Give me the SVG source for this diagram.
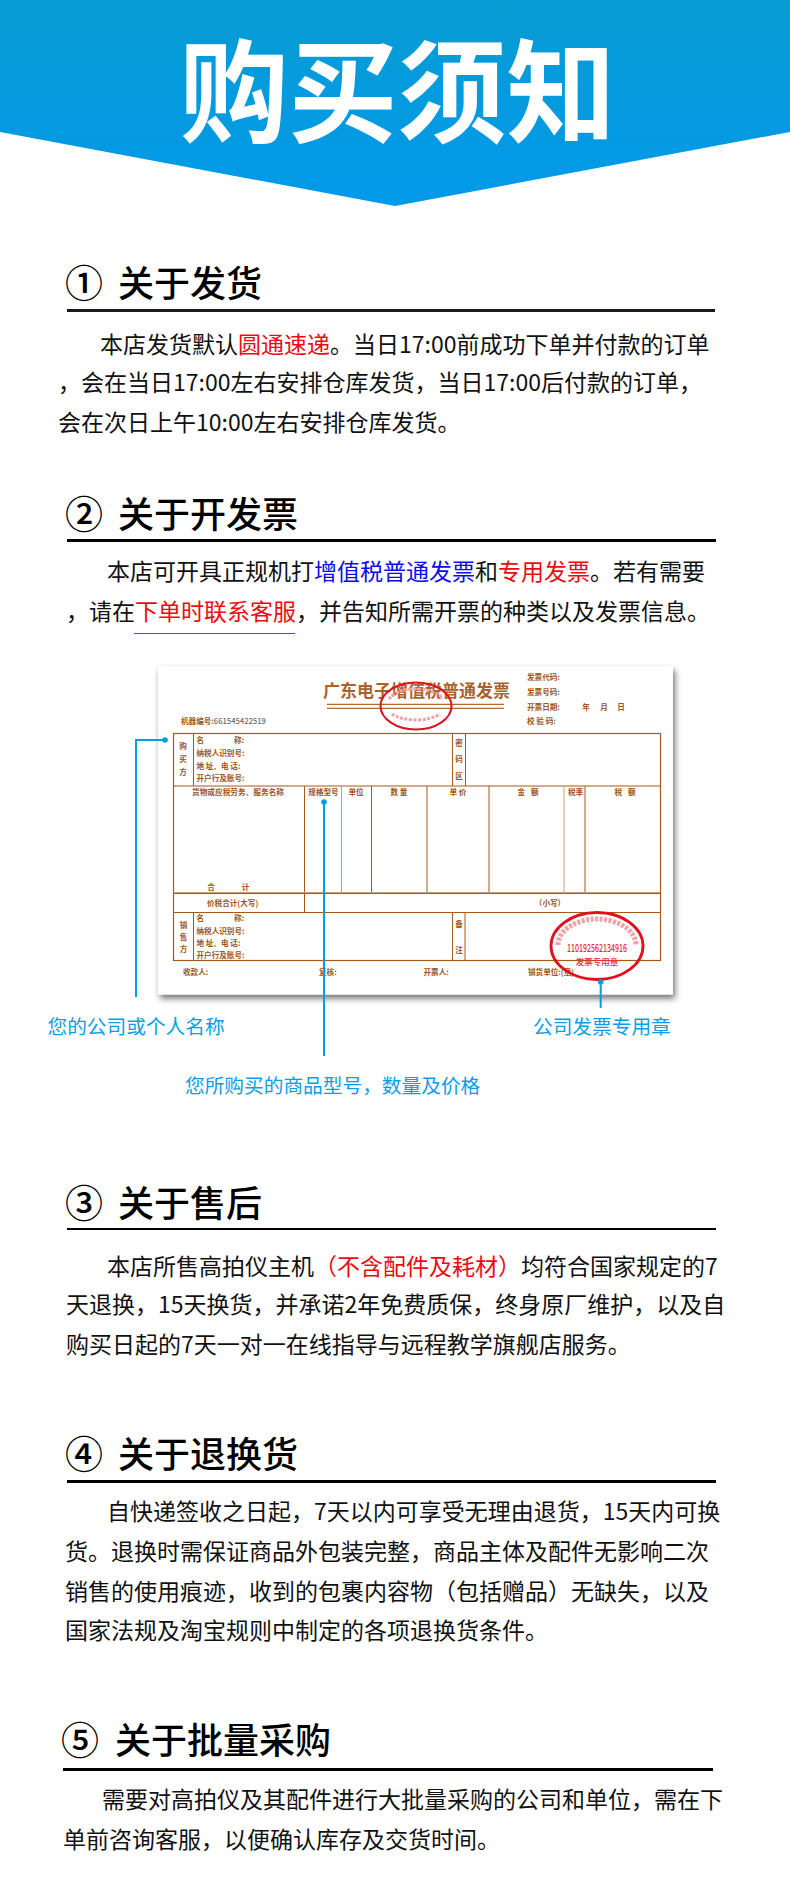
<svg xmlns="http://www.w3.org/2000/svg" width="790" height="1881" viewBox="0 0 790 1881">
<style>
text{font-family:"Noto Sans CJK SC","Noto Sans",sans-serif}
.title{font-size:112px;font-weight:700;fill:#fff}
.h{font-size:36px;font-weight:500;fill:#000}
.n{font-size:38px;font-family:"Noto Sans CJK SC",sans-serif;fill:#000;font-weight:500}
.b{font-size:23px;fill:#111}
.r{fill:#f00910}
.bl{fill:#0a0af0}
.lab{font-size:19.7px;fill:#0a9ee6}
.rule{fill:#1a1a1a}
.conn{stroke:#009fe8;stroke-width:2;fill:none}
.dot{fill:#009fe8}
.f{fill:none;stroke:#a8591a;stroke-width:1.2}
.fl{stroke:#a8591a;stroke-width:1;fill:none}
.fs{stroke:#c9a07e;stroke-width:1;fill:none}
.t{font-size:7.6px;font-weight:700;fill:#9c5522}
.tm{text-anchor:middle}
.st{fill:none;stroke:#e0101c}
.sr{fill:#ef2a36;font-weight:500}
.ph{fill:none;stroke:#f3a0a6;stroke-dasharray:3 1.500}
</style>
<defs>
<linearGradient id="bg" x1="0" y1="0" x2="0" y2="1"><stop offset="0" stop-color="#079cd3"/><stop offset="1" stop-color="#0299ea"/></linearGradient>
<filter id="sh" x="-5%" y="-5%" width="110%" height="112%"><feDropShadow dx="2" dy="4" stdDeviation="3" flood-color="#000" flood-opacity=".55"/></filter>
</defs>
<g id="banner">
<polygon points="0,0 790,0 790,132 395,206 0,132" fill="url(#bg)"/>
<text class="title" x="397.500" y="134" text-anchor="middle" textLength="436" lengthAdjust="spacingAndGlyphs">购买须知</text>
</g>
<g id="sec1">
<text class="n" x="65" y="297">①</text><text class="h" x="118" y="297">关于发货</text>
<rect class="rule" x="67" y="309" width="648" height="3"/>
<text class="b" x="100" y="353">本店发货默认<tspan class="r">圆通速递</tspan>。当日17:00前成功下单并付款的订单</text>
<text class="b" x="58" y="391">，会在当日17:00左右安排仓库发货，当日17:00后付款的订单，</text>
<text class="b" x="58" y="431">会在次日上午10:00左右安排仓库发货。</text>
</g>
<g id="sec2">
<text class="n" x="65" y="528">②</text><text class="h" x="118" y="528">关于开发票</text>
<rect x="67" y="539" width="649" height="3" fill="#000"/>
<text class="b" x="107" y="580">本店可开具正规机打<tspan class="bl">增值税普通发票</tspan>和<tspan class="r">专用发票</tspan>。若有需要</text>
<text class="b" x="66" y="620">，请在<tspan class="r">下单时联系客服</tspan>，并告知所需开票的种类以及发票信息。</text>
<rect x="134" y="633" width="161" height="1" fill="#ee1c25"/>
</g>
<g id="invoice">
<rect x="158" y="666" width="515" height="328.500" fill="#fff" filter="url(#sh)"/>
<text x="416.500" y="697" text-anchor="middle" font-size="17" font-weight="700" fill="#a8642c">广东电子增值税普通发票</text>
<path d="M327 704.300H504M327 708.300H504" stroke="#b06c30" stroke-width="1.200"/>
<text class="t" x="527" y="679.500">发票代码:</text>
<text class="t" x="527" y="694.500">发票号码:</text>
<text class="t" x="527" y="709.500">开票日期:</text>
<text class="t" x="527" y="724">校 验 码:</text>
<text class="t" x="586" y="709.500" text-anchor="middle" font-weight="400">年</text>
<text class="t" x="604" y="709.500" text-anchor="middle" font-weight="400">月</text>
<text class="t" x="621" y="709.500" text-anchor="middle" font-weight="400">日</text>
<text class="t" x="181" y="724">机器编号:<tspan fill="#6a6a6a" font-weight="500">661545422519</tspan></text>
<rect class="f" x="173.500" y="733.500" width="487" height="227"/>
<path class="fl" d="M173.500 786H661M173.500 893.500H660.500M173.500 912.500H660.500M193.500 733.500V786M193.500 912.500V960.500M452.500 733.500V786M452.500 912.500V960.500M465.500 733.500V786M465 912.500V960.500M304.500 786V912.500M371.500 786V893.500M427 786V893.500M489 786V893.500M585 786V893.500"/>
<path class="fs" d="M341.500 786V893.500M564 786V893.500M173.500 892.500H660"/>
<g>
<text class="t tm" x="183" y="748.500">购</text><text class="t tm" x="183" y="762">买</text><text class="t tm" x="183" y="775">方</text>
<text class="t" x="196.500" y="742.500">名<tspan dx="30">称:</tspan></text>
<text class="t" x="196.500" y="755.500">纳税人识别号:</text>
<text class="t" x="196.500" y="768.500">地 址、电 话:</text>
<text class="t" x="196.500" y="781">开户行及账号:</text>
<text class="t tm" x="459" y="745.500">密</text><text class="t tm" x="459" y="762">码</text><text class="t tm" x="459" y="779">区</text>
<text class="t" x="192" y="795" textLength="92" lengthAdjust="spacingAndGlyphs">货物或应税劳务、服务名称</text>
<text class="t tm" x="323.500" y="795">规格型号</text>
<text class="t tm" x="356" y="795">单位</text>
<text class="t tm" x="399" y="795">数 量</text>
<text class="t tm" x="458" y="795">单 价</text>
<text class="t tm" x="528" y="795">金<tspan dx="6">额</tspan></text>
<text class="t tm" x="575.500" y="795">税率</text>
<text class="t tm" x="625" y="795">税<tspan dx="6">额</tspan></text>
<text class="t tm" x="211" y="889.500">合</text><text class="t tm" x="245.500" y="889.500">计</text>
<text class="t" x="207" y="905.500">价税合计(大写)</text>
<text class="t tm" x="550" y="905.500">（小写）</text>
<text class="t tm" x="183.500" y="927.500">销</text><text class="t tm" x="183.500" y="940">售</text><text class="t tm" x="183.500" y="952">方</text>
<text class="t" x="196.500" y="921">名<tspan dx="30">称:</tspan></text>
<text class="t" x="196.500" y="934">纳税人识别号:</text>
<text class="t" x="196.500" y="946">地 址、电 话:</text>
<text class="t" x="196.500" y="957.500">开户行及账号:</text>
<text class="t tm" x="459" y="927">备</text><text class="t tm" x="459" y="953">注</text>
<text class="t" x="183" y="974.500">收款人:</text>
<text class="t" x="319" y="974.500">复核:</text>
<text class="t" x="423.500" y="974.500">开票人:</text>
<text class="t" x="528" y="974.500">销货单位:(章)</text>
</g>
<path class="ph" d="M389 699A30 18 0 0 1 443 699M392 714A30 15 0 0 0 440 714" stroke-width="3"/>
<path class="ph" d="M558 945A39 26 0 0 1 636 945" stroke-width="5"/>
<ellipse class="st" cx="416" cy="706" rx="35.500" ry="23.500" stroke-width="2"/>
<ellipse class="st" cx="597" cy="946" rx="46" ry="33.500" stroke-width="2.800"/>
<text class="sr" x="597" y="952" text-anchor="middle" font-size="11" font-family="Liberation Sans" textLength="60" lengthAdjust="spacingAndGlyphs">110192562134916</text>
<text class="sr" x="597" y="964.500" text-anchor="middle" font-size="8.500">发票专用章</text>
</g>
<g id="connectors">
<path class="conn" d="M136 997V740H165"/><circle class="dot" cx="165" cy="740" r="2.800"/>
<path class="conn" d="M324 1056V802"/><circle class="dot" cx="324" cy="802" r="2.800"/>
<path class="conn" d="M600.700 1008V982"/><circle class="dot" cx="600.700" cy="982" r="2.800"/>
</g>
<g id="labels">
<text class="lab" x="47.500" y="1034">您的公司或个人名称</text>
<text class="lab" x="185" y="1093">您所购买的商品型号，数量及价格</text>
<text class="lab" x="533" y="1034">公司发票专用章</text>
</g>
<g id="sec3">
<text class="n" x="65" y="1217">③</text><text class="h" x="118" y="1217">关于售后</text>
<rect x="67" y="1228" width="649" height="2" fill="#000"/>
<text class="b" x="107" y="1275">本店所售高拍仪主机<tspan class="r">（不含配件及耗材）</tspan>均符合国家规定的7</text>
<text class="b" x="66" y="1313">天退换，15天换货，并承诺2年免费质保，终身原厂维护，以及自</text>
<text class="b" x="66" y="1353">购买日起的7天一对一在线指导与远程教学旗舰店服务。</text>
</g>
<g id="sec4">
<text class="n" x="65" y="1468">④</text><text class="h" x="118" y="1468">关于退换货</text>
<rect x="67" y="1480" width="649" height="3" fill="#000"/>
<text class="b" x="107" y="1520">自快递签收之日起，7天以内可享受无理由退货，15天内可换</text>
<text class="b" x="65" y="1560">货。退换时需保证商品外包装完整，商品主体及配件无影响二次</text>
<text class="b" x="65" y="1600">销售的使用痕迹，收到的包裹内容物（包括赠品）无缺失，以及</text>
<text class="b" x="65" y="1639">国家法规及淘宝规则中制定的各项退换货条件。</text>
</g>
<g id="sec5">
<text class="n" x="61" y="1754">⑤</text><text class="h" x="115" y="1754">关于批量采购</text>
<rect x="63" y="1768" width="650" height="3" fill="#000"/>
<text class="b" x="102" y="1808">需要对高拍仪及其配件进行大批量采购的公司和单位，需在下</text>
<text class="b" x="63" y="1848">单前咨询客服，以便确认库存及交货时间。</text>
</g>
</svg>
